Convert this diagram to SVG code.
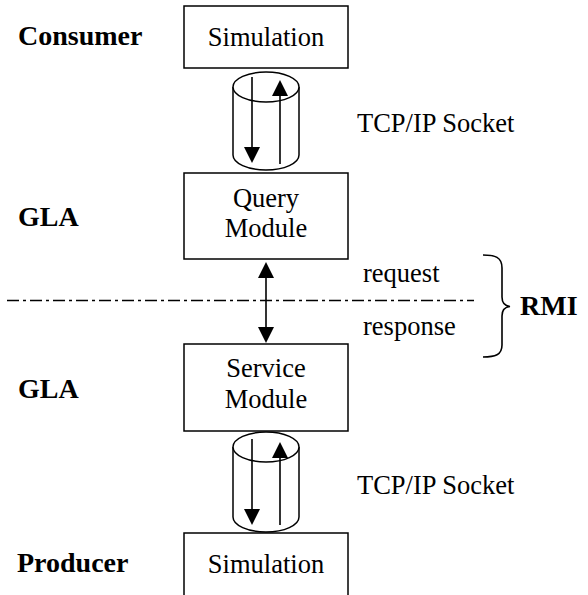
<svg xmlns="http://www.w3.org/2000/svg" width="588" height="595" viewBox="0 0 588 595">
<style>
.box{fill:#fff;stroke:#000;stroke-width:1.5}
.cyl{fill:#fff;stroke:#000;stroke-width:1.5}
.t{font-family:"Liberation Serif","Times New Roman",serif;font-size:26.5px;fill:#000}
.b{font-family:"Liberation Serif","Times New Roman",serif;font-size:28px;font-weight:bold;fill:#000}
.c{text-anchor:middle}
.ln{stroke:#000;stroke-width:1.6;fill:none}
</style>
<defs>
<marker id="ah" viewBox="0 0 16 16" refX="13" refY="8" markerWidth="16" markerHeight="16" markerUnits="userSpaceOnUse" orient="auto-start-reverse">
<path d="M0,0 L16,8 L0,16 z" fill="#000"/>
</marker>
</defs>
<rect x="0" y="0" width="588" height="595" fill="#fff"/>
<g id="labels">
<text class="b" x="18" y="45">Consumer</text>
<text class="b" x="18" y="226">GLA</text>
<text class="b" x="18" y="398">GLA</text>
<text class="b" x="17" y="572">Producer</text>
<text class="t" x="357" y="132">TCP/IP Socket</text>
<text class="t" x="357" y="494">TCP/IP Socket</text>
<text class="t" x="363" y="282">request</text>
<text class="t" x="363" y="335">response</text>
<text class="b" x="520" y="315">RMI</text>
</g>
<g id="consumer-sim">
<rect class="box" x="184" y="6" width="164" height="62"/>
<text class="t c" x="266" y="46">Simulation</text>
</g>
<g id="query-module">
<rect class="box" x="184" y="173" width="164" height="86"/>
<text class="t c" x="266" y="207">Query</text>
<text class="t c" x="266" y="237">Module</text>
</g>
<g id="service-module">
<rect class="box" x="184" y="344" width="164" height="87"/>
<text class="t c" x="266" y="377">Service</text>
<text class="t c" x="266" y="408">Module</text>
</g>
<g id="producer-sim">
<rect class="box" x="184" y="533" width="164" height="70"/>
<text class="t c" x="266" y="573">Simulation</text>
</g>
<g id="socket-top">
<path class="cyl" d="M233,87 L233,155 A33,15 0 0 0 299,155 L299,87"/>
<ellipse class="cyl" cx="266" cy="87" rx="33" ry="15"/>
</g>
<g id="socket-bottom">
<path class="cyl" d="M233,447 L233,517 A33,15 0 0 0 299,517 L299,447"/>
<ellipse class="cyl" cx="266" cy="447" rx="33" ry="15"/>
</g>
<g id="connectors">
<line class="ln" x1="252" y1="77" x2="252" y2="160" marker-end="url(#ah)"/>
<line class="ln" x1="280" y1="164" x2="280" y2="83" marker-end="url(#ah)"/>
<line class="ln" x1="252" y1="439" x2="252" y2="522" marker-end="url(#ah)"/>
<line class="ln" x1="280" y1="525" x2="280" y2="445" marker-end="url(#ah)"/>
<line class="ln" x1="266" y1="265" x2="266" y2="340" marker-start="url(#ah)" marker-end="url(#ah)"/>
<line class="ln" x1="7" y1="300.5" x2="474" y2="300.5" stroke-dasharray="12 4 3 4"/>
<path class="ln" d="M483,255 C495,255 502,257 502,268 L502,297 C502,303 505,306 510,306.5 C505,307 502,310 502,316 L502,345 C502,355 495,357 483,357"/>
</g>
</svg>
